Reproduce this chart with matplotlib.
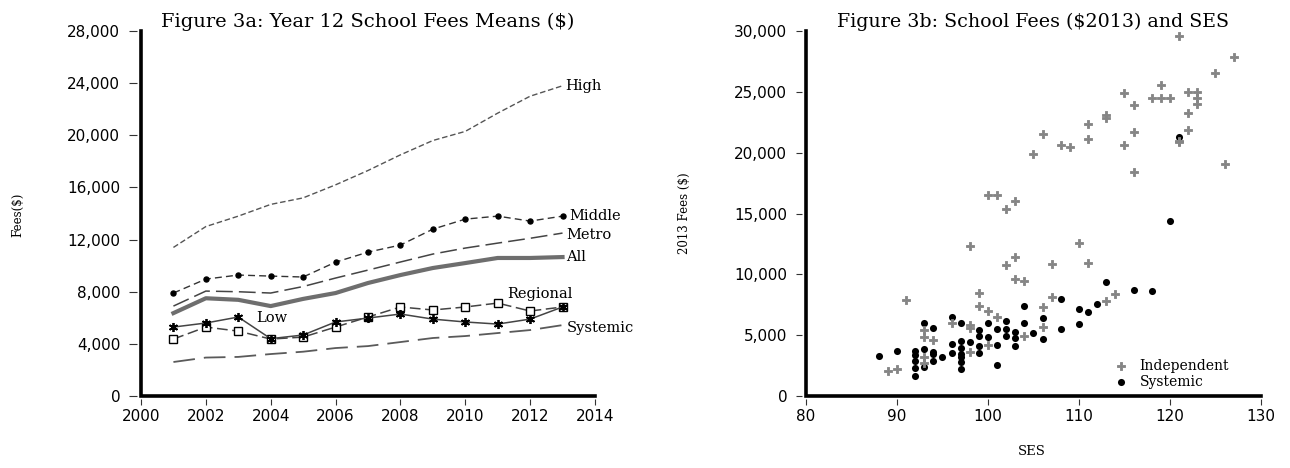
import numpy as np
import matplotlib.pyplot as plt
from matplotlib.ticker import FuncFormatter, MultipleLocator

# Figure 3a: mean Year 12 fees by group
years = np.arange(2001, 2014)
high = [11400, 13000, 13800, 14700, 15200, 16200, 17300, 18500, 19600, 20300, 21700, 23000, 23800]
middle = [7900, 8970, 9280, 9200, 9130, 10270, 11040, 11580, 12800, 13570, 13800, 13420, 13800]
metro = [6900, 8050, 8000, 7900, 8400, 9050, 9660, 10280, 10890, 11350, 11730, 12100, 12500]
all_ = [6360, 7500, 7380, 6900, 7450, 7900, 8670, 9280, 9820, 10200, 10590, 10590, 10660]
regional = [4370, 5290, 4980, 4370, 4520, 5290, 6060, 6830, 6600, 6830, 7130, 6520, 6830]
low = [5290, 5600, 6060, 4400, 4680, 5680, 5980, 6290, 5900, 5680, 5520, 5900, 6830]
systemic = [2610, 2950, 3000, 3220, 3400, 3680, 3830, 4140, 4450, 4600, 4830, 5060, 5440]

# Figure 3b: 2013 fees against SES
ses_ind = [89, 90, 91, 93, 93, 93, 93, 94, 96, 98, 98, 98, 98, 99, 99, 100, 100, 100,
           101, 101, 102, 102, 103, 103, 103, 104, 104, 105, 106, 106, 106, 107, 107,
           108, 109, 110, 111, 111, 111, 113, 113, 113, 114, 115, 115, 116, 116, 116,
           118, 119, 119, 120, 121, 121, 121, 122, 122, 122, 123, 123, 123, 125, 126, 127]
fee_ind = [2050, 2200, 7900, 5400, 4850, 3200, 2700, 4600, 6000, 12300, 5800, 5600, 3650,
           8450, 7400, 7000, 4200, 16500, 6500, 16500, 10750, 15350, 11400, 9600, 16000,
           9450, 4900, 19900, 21500, 7300, 5650, 10850, 8150, 20600, 20450, 12550, 22350,
           21100, 10900, 23100, 22850, 7800, 8400, 24900, 20600, 23900, 21700, 18400,
           24500, 25550, 24500, 24500, 29600, 21000, 20850, 25000, 23250, 21850, 25000,
           24500, 24000, 26550, 19050, 27850]
ses_sys = [88, 90, 92, 92, 92, 92, 92, 93, 93, 93, 94, 94, 94, 94, 95, 96, 96, 96,
           97, 97, 97, 97, 97, 97, 97, 98, 99, 99, 99, 99, 100, 100, 101, 101, 101,
           102, 102, 102, 103, 103, 103, 104, 104, 105, 106, 106, 108, 108, 110, 110,
           111, 112, 113, 116, 118, 120, 121]
fee_sys = [3300, 3700, 3700, 3370, 2880, 2300, 1640, 6000, 3850, 2400, 5550, 3600, 3450,
           2870, 3200, 6500, 4270, 3530, 6000, 4500, 3950, 3450, 3200, 2800, 2220, 4450,
           5400, 4930, 4100, 3530, 6000, 4850, 5500, 4200, 2550, 6200, 5500, 4930, 5260,
           4770, 4110, 7400, 6000, 5180, 6400, 4680, 7950, 5500, 7150, 5900, 6900, 7560,
           9370, 8700, 8630, 14400, 21300]

SERIF = 'DejaVu Serif'
SANS = 'DejaVu Sans'
comma = FuncFormatter(lambda v, p: f'{int(v):,}')


def style_axes(ax, ylen):
    for s in ['top', 'right']:
        ax.spines[s].set_visible(False)
    ax.spines['left'].set_position(('outward', 3))
    ax.spines['bottom'].set_position(('outward', 2))
    ax.spines['left'].set_visible(False)
    ax.spines['bottom'].set_visible(False)
    ax.plot([0, 0, 1], [1, 0, 0], transform=ax.transAxes, color='black', lw=2.6,
            clip_on=False, solid_joinstyle='miter', zorder=6)
    ax.tick_params(axis='y', direction='out', length=ylen, width=0.8, pad=6,
                   labelsize=11, color='#333333')
    ax.tick_params(axis='x', direction='out', length=4, width=0.8, pad=3.5,
                   labelsize=11, color='#333333')
    for lab in ax.get_xticklabels() + ax.get_yticklabels():
        lab.set_fontfamily(SANS)
    ax.yaxis.set_major_formatter(comma)


fig = plt.figure(figsize=(12.9, 4.68), dpi=100)
ax1 = fig.add_axes([0.1093, 0.1538, 0.3519, 0.7799])
ax2 = fig.add_axes([0.6248, 0.1538, 0.3527, 0.7799])

# ---- left panel
ax1.plot(years, high, color='#555555', lw=1.0, dashes=(4, 2))
ax1.plot(years, middle, color='#333333', lw=1.0, dashes=(5, 3),
         marker='o', ms=3.6, mfc='black', mec='black')
ax1.plot(years, metro, color='#444444', lw=1.1, dashes=(11, 4))
ax1.plot(years, all_, color='#6e6e6e', lw=3.0)
ax1.plot(years, regional, color='#444444', lw=1.1, dashes=(7, 3),
         marker='s', ms=5.5, mfc='white', mec='black', mew=1.0)
ax1.plot(years, low, color='#444444', lw=1.1,
         marker=(6, 2, 0), ms=6.5, mec='black', mew=1.3)
ax1.plot(years, systemic, color='#5a5a5a', lw=1.3, dashes=(12, 5))

lab_kw = dict(fontfamily=SERIF, fontsize=10.5, va='center', ha='left')
ax1.text(2013.07, high[-1], 'High', **lab_kw)
ax1.text(2013.2, middle[-1], 'Middle', **lab_kw)
ax1.text(2013.12, 12350, 'Metro', **lab_kw)
ax1.text(2013.12, all_[-1], 'All', **lab_kw)
ax1.text(2013.12, 5210, 'Systemic', **lab_kw)
ax1.text(2012.3, 7830, 'Regional', fontfamily=SERIF, fontsize=10.5, va='center', ha='center')
ax1.text(2003.55, 5980, 'Low', fontfamily=SERIF, fontsize=10.5, va='center', ha='left',
         bbox=dict(facecolor='white', edgecolor='none', pad=0.5), zorder=5)

ax1.set_xlim(2000, 2014)
ax1.set_ylim(0, 28000)
ax1.xaxis.set_major_locator(MultipleLocator(2))
ax1.yaxis.set_major_locator(MultipleLocator(4000))
style_axes(ax1, 6)
ax1.set_title('Figure 3a: Year 12 School Fees Means ($)', fontfamily=SERIF, fontsize=14, pad=3)
ax1.set_ylabel('Fees($)', fontfamily=SERIF, fontsize=8.5)
ax1.yaxis.set_label_coords(-0.257, 0.496)

# ---- right panel
sc_sys = ax2.scatter(ses_sys, fee_sys, marker='o', s=26, color='black', linewidths=0, zorder=3)
sc_ind = ax2.scatter(ses_ind, fee_ind, marker='P', s=40, color='#858585',
                     edgecolors='#858585', linewidths=0.6, zorder=4)
ax2.set_xlim(80, 130)
ax2.set_ylim(0, 30000)
ax2.xaxis.set_major_locator(MultipleLocator(10))
ax2.yaxis.set_major_locator(MultipleLocator(5000))
style_axes(ax2, 4.5)
ax2.set_title('Figure 3b: School Fees ($2013) and SES', fontfamily=SERIF, fontsize=13.7, pad=3)
ax2.set_ylabel('2013 Fees ($)', fontfamily=SERIF, fontsize=8.5)
ax2.yaxis.set_label_coords(-0.253, 0.5)
ax2.set_xlabel('SES', fontfamily=SERIF, fontsize=9.5)
ax2.xaxis.set_label_coords(0.497, -0.135)
ax2.legend([sc_ind, sc_sys], ['Independent', 'Systemic'], loc='lower right',
           bbox_to_anchor=(0.945, 0.0), frameon=False, borderaxespad=0.1,
           handletextpad=0.3, labelspacing=0.15, markerscale=1.0,
           prop=dict(family=SERIF, size=10))

fig.savefig('out.png', dpi=100)
